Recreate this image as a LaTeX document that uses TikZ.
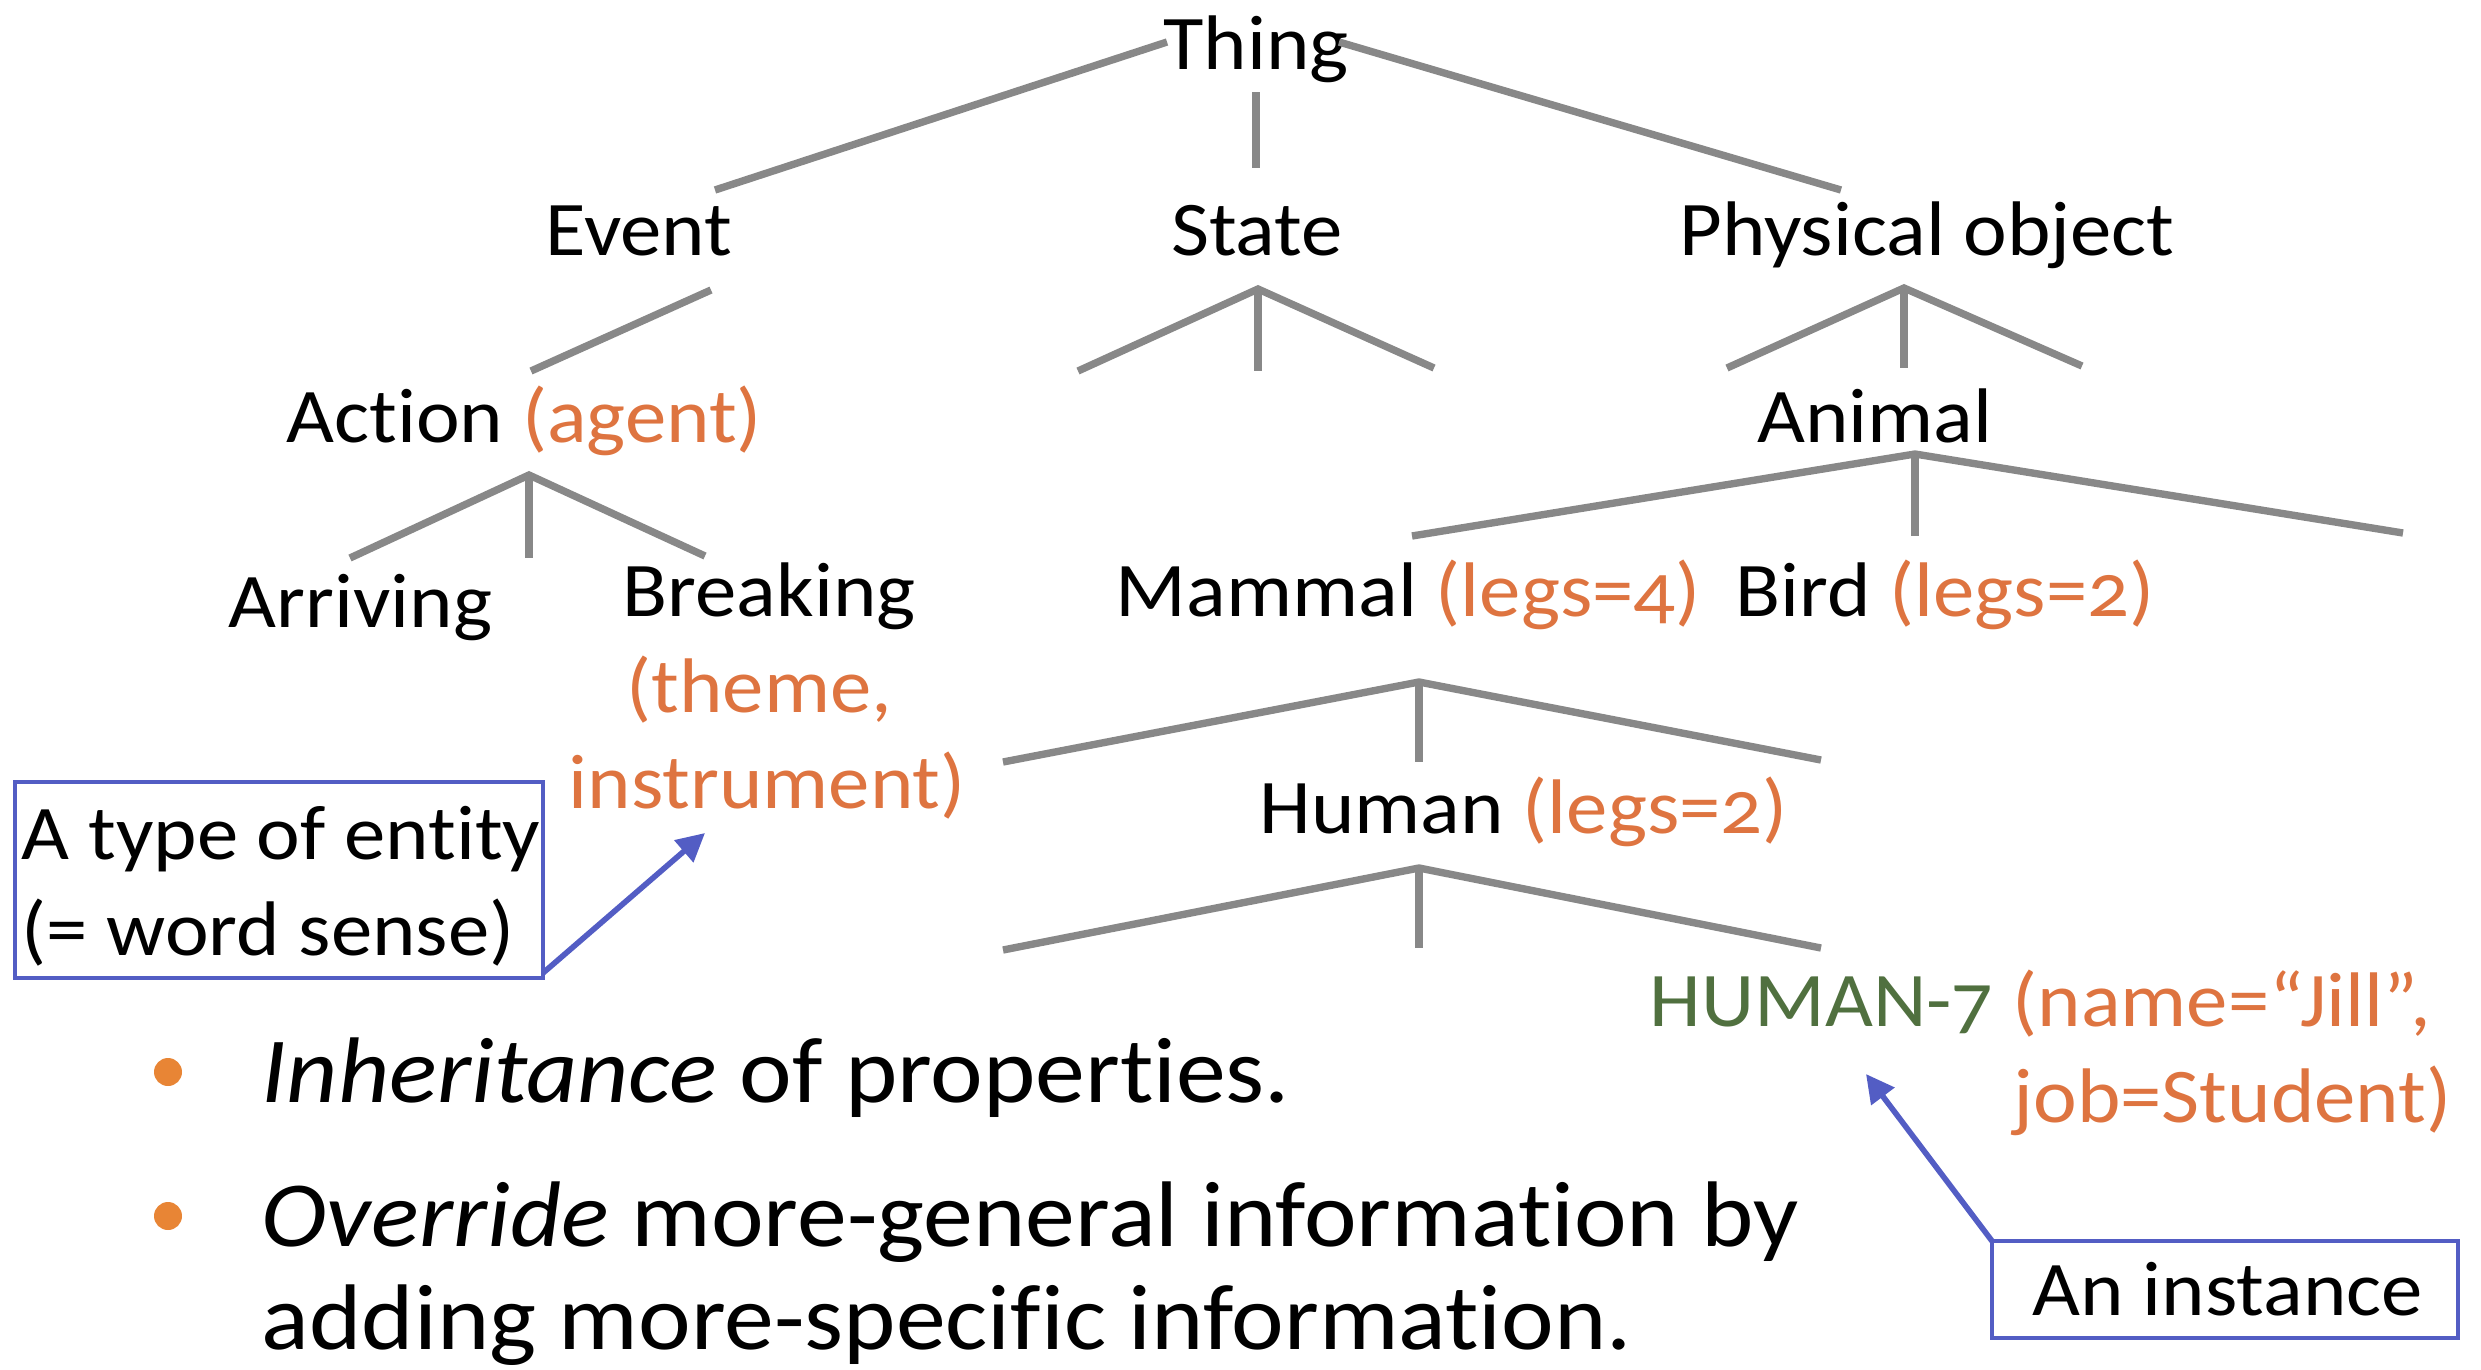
\documentclass[tikz,border=0pt]{standalone}
\usepackage{fontspec}
\setmainfont{Carlito}[Numbers=OldStyle, FakeStretch=1.07, Ligatures=NoCommon]
\usetikzlibrary{arrows.meta}
\definecolor{branch}{HTML}{888888}
\definecolor{prop}{HTML}{DE7440}
\definecolor{inst}{HTML}{50703F}
\definecolor{note}{HTML}{535DC4}
\definecolor{dot}{HTML}{E88535}
\tikzset{
  label/.style={anchor=base west, inner sep=0pt, font=\fontsize{22}{26}\selectfont},
  clabel/.style={anchor=base, inner sep=0pt, font=\fontsize{22}{26}\selectfont},
  bullettext/.style={anchor=base west, inner sep=0pt, font=\fontsize{26.5}{31}\selectfont},
  branchline/.style={draw=branch, line width=2.1pt, line join=miter},
  notebox/.style={draw=note, line width=1.2pt},
  notearrow/.style={draw=note, line width=1.6pt, -{Triangle[length=8pt,width=8pt]}},
}
\newcommand{\pr}[1]{\textcolor{prop}{#1}}
\begin{document}
\begin{tikzpicture}[x=0.01cm, y=-0.01cm]
\useasboundingbox (0,0) rectangle (2481,1369);

% concept labels
\node[clabel] (thing) at (1256,69) {Thing};
\node[clabel] (event) at (639,255) {Event};
\node[clabel] (state) at (1257,255) {State};
\node[clabel] (phys) at (1927,255) {Physical object};
\node[label] (action) at (286,442) {Action \pr{(agent)}};
\node[clabel] (animal) at (1875,442) {Animal};
\node[label] (arriving) at (228,627) {Arriving};
\node[label] (breaking) at (622,616) {Breaking};
\node[label] (breakingA) at (626,712) {\pr{(theme,}};
\node[label] (breakingB) at (568,808) {\pr{instrument)}};
\node[label] (mammal) at (1115,616) {Mammal \pr{(legs=4)}};
\node[label] (bird) at (1735,616) {Bird \pr{(legs=2)}};
\node[label] (human) at (1259,833) {Human \pr{(legs=2)}};
\node[label] (human7) at (1649,1026) {\textcolor{inst}{HUMAN-7} \pr{(name=“Jill”,}};
\node[label] (human7b) at (2013,1122) {\pr{job=Student)}};

% branch end points
\coordinate (thingL) at (1167,42);
\coordinate (thingD) at (1256,92);
\coordinate (thingR) at (1339,42);
\coordinate (eventT) at (715,190);
\coordinate (stateT) at (1256,168);
\coordinate (physT) at (1841,190);
\coordinate (eventB) at (711,290);
\coordinate (actionT) at (531,371);

\coordinate (stA) at (1258,289);
\coordinate (stL) at (1078,371);
\coordinate (stM) at (1258,371);
\coordinate (stR) at (1434,368);

\coordinate (poA) at (1904,288);
\coordinate (poL) at (1727,368);
\coordinate (poM) at (1904,368);
\coordinate (poR) at (2082,366);

\coordinate (acA) at (529,475);
\coordinate (acL) at (350,558);
\coordinate (acM) at (529,558);
\coordinate (acR) at (705,556);

\coordinate (anA) at (1915,454);
\coordinate (anL) at (1412,536);
\coordinate (anM) at (1915,536);
\coordinate (anR) at (2403,533);

\coordinate (maA) at (1419,682);
\coordinate (maL) at (1003,762);
\coordinate (maM) at (1419,762);
\coordinate (maR) at (1821,760);

\coordinate (huA) at (1419,868);
\coordinate (huL) at (1003,950);
\coordinate (huM) at (1419,948);
\coordinate (huR) at (1821,948);

% hierarchy branches
\draw[branchline] (thingL) -- (eventT);
\draw[branchline] (thingD) -- (stateT);
\draw[branchline] (thingR) -- (physT);
\draw[branchline] (eventB) -- (actionT);
\draw[branchline] (stL) -- (stA) -- (stR);
\draw[branchline] (stA) -- (stM);
\draw[branchline] (poL) -- (poA) -- (poR);
\draw[branchline] (poA) -- (poM);
\draw[branchline] (acL) -- (acA) -- (acR);
\draw[branchline] (acA) -- (acM);
\draw[branchline] (anL) -- (anA) -- (anR);
\draw[branchline] (anA) -- (anM);
\draw[branchline] (maL) -- (maA) -- (maR);
\draw[branchline] (maA) -- (maM);
\draw[branchline] (huL) -- (huA) -- (huR);
\draw[branchline] (huA) -- (huM);

% callouts
\draw[notebox] (15,782) rectangle (543,978);
\coordinate (typebox) at (543,973);
\node[label] (typeA) at (21,859) {A type of entity};
\node[label] (typeB) at (21,955) {(= word sense)};
\coordinate (typetip) at (705,833);
\draw[notearrow] (typebox) -- (typetip);

\draw[notebox] (1992,1241) rectangle (2458,1338);
\coordinate (instbox) at (1992,1241);
\node[label] (instlabel) at (2032,1315) {An instance};
\coordinate (insttip) at (1866,1074);
\draw[notearrow] (instbox) -- (insttip);

% bullet points
\fill[dot] (168,1072) circle (14);
\fill[dot] (168,1216) circle (14);
\node[bullettext] (b1) at (261,1102) {\textit{Inheritance} of properties.};
\node[bullettext] (b2) at (261,1246) {\textit{Override} more-general information by};
\node[bullettext] (b2b) at (261,1349) {adding more-specific information.};
\end{tikzpicture}
\end{document}
